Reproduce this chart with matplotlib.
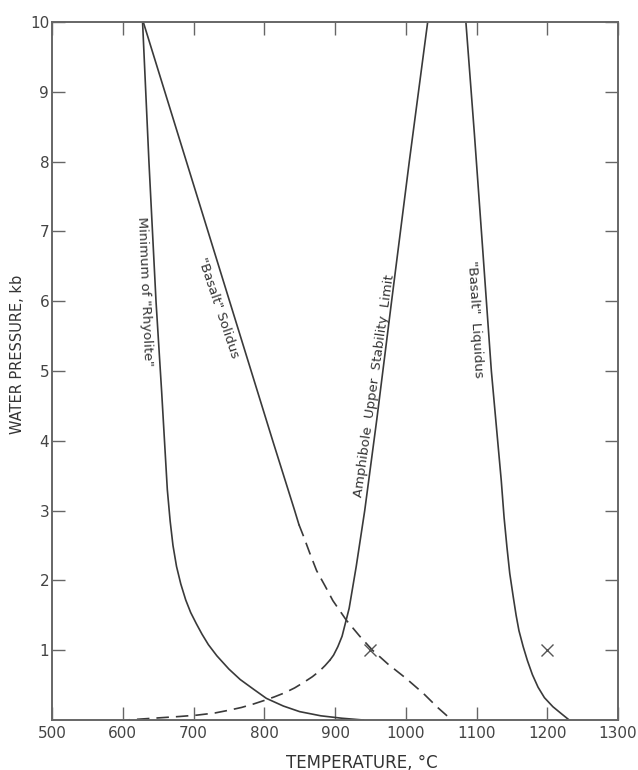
import matplotlib
matplotlib.use("Agg")
import matplotlib.pyplot as plt

# ---- data (temperature °C, water pressure kb) ----
rhyolite_T = [628, 637, 647, 655, 659, 663, 667, 671, 676, 682, 689, 696, 704, 712, 721, 733, 750, 766, 785, 803, 827, 850, 880, 910, 940]
rhyolite_P = [10, 8, 6, 4.7, 4, 3.3, 2.85, 2.5, 2.2, 1.95, 1.72, 1.54, 1.38, 1.23, 1.08, 0.92, 0.73, 0.58, 0.44, 0.31, 0.2, 0.12, 0.06, 0.025, 0]

solidus_solid_T = [629, 690, 751, 812, 843, 849]
solidus_solid_P = [10, 8, 6, 4, 3, 2.8]
solidus_dash_T = [849, 856, 864, 874, 886, 897, 916, 935, 953, 975, 1000, 1025, 1045, 1065]
solidus_dash_P = [2.8, 2.62, 2.4, 2.14, 1.92, 1.71, 1.43, 1.2, 1.0, 0.8, 0.6, 0.38, 0.18, 0]

amph_solid_T = [1031, 1005, 980, 959, 942, 936, 930, 925, 920, 915, 910, 904, 898, 893]
amph_solid_P = [10, 8, 6, 4.3, 3, 2.6, 2.2, 1.9, 1.6, 1.4, 1.2, 1.05, 0.93, 0.86]
amph_dash_T = [893, 886, 878, 868, 856, 843, 829, 814, 800, 785, 768, 750, 730, 705, 680, 650, 605]
amph_dash_P = [0.86, 0.78, 0.7, 0.62, 0.54, 0.46, 0.39, 0.33, 0.28, 0.23, 0.18, 0.14, 0.1, 0.07, 0.05, 0.03, 0]

liquidus_T = [1085, 1097, 1109, 1121, 1135, 1139, 1143, 1147, 1152, 1156, 1160, 1166, 1172, 1179, 1187, 1196, 1208, 1220, 1231]
liquidus_P = [10, 8.4, 6.71, 5.0, 3.43, 2.9, 2.48, 2.1, 1.76, 1.5, 1.28, 1.05, 0.85, 0.65, 0.47, 0.32, 0.19, 0.09, 0]

x_marks_T = [950, 1200]
x_marks_P = [1, 1]

x_ticks = [500, 600, 700, 800, 900, 1000, 1100, 1200, 1300]
y_ticks = [1, 2, 3, 4, 5, 6, 7, 8, 9, 10]

labels = ['Minimum of "Rhyolite"', '"Basalt" Solidus',
          'Amphibole  Upper  Stability  Limit', '"Basalt"  Liquidus']
label_T = [631.4, 734.6, 955.0, 1097.9]
label_P = [6.14, 5.9, 4.79, 5.74]
label_rot = [-87.6, -71.4, 81.9, -86.6]

# ---- style ----
plt.rcParams['font.family'] = ['DejaVu Sans']
line_c = '#3a3a3a'
axis_c = '#666666'
lw = 1.2
dash = (0, (7.5, 4.2))

fig = plt.figure(figsize=(6.38, 7.70), dpi=100)
ax = fig.add_axes([52 / 638, 50 / 770, 566 / 638, 698 / 770])

ax.plot(rhyolite_T, rhyolite_P, color=line_c, lw=lw)
ax.plot(solidus_solid_T, solidus_solid_P, color=line_c, lw=lw)
ax.plot(solidus_dash_T, solidus_dash_P, color=line_c, lw=lw, linestyle=dash)
ax.plot(amph_solid_T, amph_solid_P, color=line_c, lw=lw)
ax.plot(amph_dash_T, amph_dash_P, color=line_c, lw=lw, linestyle=dash)
ax.plot(liquidus_T, liquidus_P, color=line_c, lw=lw)
ax.plot(x_marks_T, x_marks_P, linestyle='none', marker='x', markersize=8,
        markeredgewidth=1.0, color='#555555')

for txt, t, p, r in zip(labels, label_T, label_P, label_rot):
    ax.text(t, p, txt, rotation=r, rotation_mode='anchor', ha='center', va='center',
            fontsize=9.5, color='#333333')

ax.set_xlim(500, 1300)
ax.set_ylim(0, 10)
ax.set_xticks(x_ticks)
ax.set_yticks(y_ticks)
ax.set_xticklabels([str(v) for v in x_ticks])
ax.set_yticklabels([str(v) for v in y_ticks])

for s in ax.spines.values():
    s.set_color(axis_c)
    s.set_linewidth(1.4)

ax.tick_params(axis='both', direction='in', length=9.5, width=1.0, color=axis_c,
               top=True, right=True, labelsize=11, labelcolor='#444444')
ax.tick_params(axis='x', pad=4)
ax.tick_params(axis='y', pad=2)

ax.set_xlabel('TEMPERATURE, °C', fontsize=12, color='#333333')
ax.set_ylabel('WATER PRESSURE, kb', fontsize=10.5, color='#333333')
ax.xaxis.set_label_coords(0.548, -0.048)
ax.yaxis.set_label_coords(-0.048, 0.524)

fig.savefig('out.png', dpi=100, facecolor='white')
